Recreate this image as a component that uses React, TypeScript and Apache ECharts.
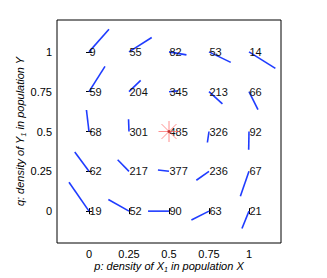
import React, { useEffect, useRef } from "react";
import * as echarts from "echarts";

const pValues = [0, 0.25, 0.5, 0.75, 1];
const qValues = [0, 0.25, 0.5, 0.75, 1];
// counts per row (q from 0 to 1), columns p from 0 to 1
const counts = [
  [19, 52, 90, 63, 21],
  [62, 217, 377, 236, 67],
  [68, 301, 485, 326, 92],
  [59, 204, 345, 213, 66],
  [9, 55, 82, 53, 14],
];
// direction segment offsets (dp, dq)
const dP = [
  [-0.125, -0.129, -0.131, -0.11, -0.044],
  [-0.089, -0.071, -0.069, -0.079, -0.054],
  [-0.016, -0.003, 0, -0.01, -0.002],
  [0.1, 0.073, 0.056, 0.084, 0.056],
  [0.125, 0.142, 0.109, 0.136, 0.165],
];
const dQ = [
  [0.181, 0.073, 0.0, -0.056, -0.109],
  [0.121, 0.073, 0.008, -0.056, -0.156],
  [0.135, 0.077, 0, -0.069, -0.115],
  [0.159, 0.071, 0.005, -0.077, -0.1125],
  [0.142, 0.09, -0.019, -0.066, -0.104],
];
const starP = [0.5];
const starQ = [0.5];
const tickValues = [0, 0.25, 0.5, 0.75, 1];
const tickLabels = ["0", "0.25", "0.5", "0.75", "1"];
const xName = "p: density of X{sub|1} in population X";
const yName = "q: density of Y{sub|1} in population Y";

const FONT = "'Liberation Sans', Arial, Helvetica, sans-serif";

export default function App() {
  const ref = useRef<HTMLDivElement>(null);
  useEffect(() => {
    if (!ref.current) return;
    const chart = echarts.init(ref.current, null, { renderer: "svg" });
    const segData: number[][] = [];
    qValues.forEach((q, i) => {
      pValues.forEach((p, j) => {
        segData.push([p, q, dP[i][j], dQ[i][j], counts[i][j]]);
      });
    });
    const starData = starP.map((p, i) => [p, starQ[i]]);
    const fmt = (v: number) => {
      const k = tickValues.indexOf(v);
      return k >= 0 ? tickLabels[k] : "";
    };
    const nameStyle = {
      fontFamily: FONT,
      fontStyle: "italic",
      fontSize: 11,
      color: "#000",
      rich: {
        sub: {
          fontFamily: FONT,
          fontStyle: "italic",
          fontSize: 7,
          color: "#000",
          verticalAlign: "bottom",
          padding: [7, 0, 0, 0],
        },
      },
    };
    const baseAxis = (pos: string, showLabel: boolean) => ({
      type: "value",
      min: -0.2,
      max: 1.2,
      position: pos,
      axisLine: { show: false },
      splitLine: { show: false },
      axisTick: {
        show: true,
        inside: true,
        length: 3,
        customValues: tickValues,
        lineStyle: { color: "#000", width: 1 },
      },
      axisLabel: {
        show: showLabel,
        customValues: tickValues,
        formatter: fmt,
        color: "#000",
        fontSize: 11,
        fontFamily: FONT,
        margin: 5,
      },
    });
    const option = {
      animation: false,
      grid: {
        left: 57,
        top: 20,
        width: 224,
        height: 225,
        show: true,
        borderColor: "#000",
        borderWidth: 1,
        backgroundColor: "#fff",
      },
      xAxis: [
        {
          ...baseAxis("bottom", true),
          name: xName,
          nameLocation: "middle",
          nameGap: 16,
          nameMoveOverlap: false,
          nameTextStyle: nameStyle,
        },
        baseAxis("top", false),
      ],
      yAxis: [
        {
          ...baseAxis("left", true),
          name: yName,
          nameLocation: "middle",
          nameGap: 30,
          nameMoveOverlap: false,
          nameTextStyle: nameStyle,
        },
        baseAxis("right", false),
      ],
      series: [
        {
          type: "custom",
          xAxisIndex: 0,
          yAxisIndex: 0,
          data: segData,
          clip: false,
          renderItem: (params: any, api: any) => {
            const p = api.value(0);
            const q = api.value(1);
            const a = api.coord([p, q]);
            const b = api.coord([p + api.value(2), q + api.value(3)]);
            return {
              type: "group",
              children: [
                {
                  type: "line",
                  shape: { x1: a[0], y1: a[1], x2: b[0], y2: b[1] },
                  style: { stroke: "#1f3cff", lineWidth: 1.6 },
                },
                {
                  type: "text",
                  x: a[0] + 0.5,
                  y: a[1],
                  style: {
                    text: String(api.value(4)),
                    fill: "#111",
                    fontSize: 11,
                    fontFamily: FONT,
                    align: "left",
                    verticalAlign: "middle",
                  },
                },
              ],
            };
          },
        },
        {
          type: "custom",
          xAxisIndex: 0,
          yAxisIndex: 0,
          data: starData,
          renderItem: (params: any, api: any) => {
            const c = api.coord([api.value(0), api.value(1)]);
            const r = 10.5;
            const d = r * Math.SQRT1_2;
            const st = { stroke: "#ff6060", lineWidth: 1, opacity: 0.7 };
            return {
              type: "group",
              children: [
                { type: "line", shape: { x1: c[0] - r, y1: c[1], x2: c[0] + r, y2: c[1] }, style: st },
                { type: "line", shape: { x1: c[0], y1: c[1] - r, x2: c[0], y2: c[1] + r }, style: st },
                { type: "line", shape: { x1: c[0] - d, y1: c[1] - d, x2: c[0] + d, y2: c[1] + d }, style: st },
                { type: "line", shape: { x1: c[0] - d, y1: c[1] + d, x2: c[0] + d, y2: c[1] - d }, style: st },
                { type: "circle", shape: { cx: c[0], cy: c[1], r: 1.5 }, style: { fill: "#b02020", opacity: 0.8 } },
              ],
            };
          },
        },
      ],
    };
    chart.setOption(option as any);
    return () => chart.dispose();
  }, []);
  return (
    <div
      ref={ref}
      style={{ position: "fixed", left: 0, top: 0, width: 327, height: 278, background: "#fff" }}
    />
  );
}
